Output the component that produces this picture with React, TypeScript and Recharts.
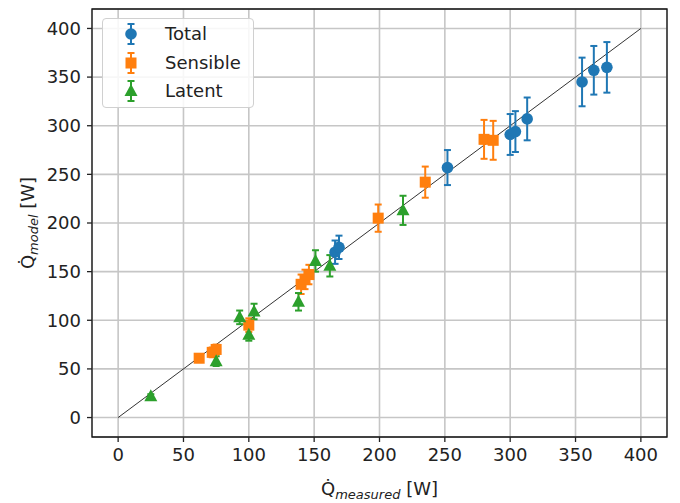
import {
  CartesianGrid,
  ErrorBar,
  Legend,
  ReferenceArea,
  ReferenceLine,
  Scatter,
  ScatterChart,
  XAxis,
  YAxis,
} from "recharts";

const totalX = [166, 169, 252, 300, 304, 313, 355, 364, 374];
const totalY = [170, 175, 257, 291, 294, 307, 345, 357, 360];
const totalErr = [12, 12, 18, 21, 21, 22, 25, 25, 26];

const sensibleX = [62, 72, 75, 100, 140, 143, 146, 199, 235, 280, 287];
const sensibleY = [61, 67, 70, 95, 137, 142, 147, 205, 242, 286, 285];
const sensibleErr = [4, 5, 5, 7, 10, 10, 10, 14, 16, 20, 20];

const latentX = [25, 75, 93, 100, 104, 138, 151, 162, 218];
const latentY = [22, 58, 103, 85, 109, 119, 161, 156, 213];
const latentErr = [2, 5, 7, 6, 8, 9, 11, 11, 15];

const ticks = [0, 50, 100, 150, 200, 250, 300, 350, 400];
const FONT = "DejaVu Sans, sans-serif";
const BLUE = "#1f77b4";
const ORANGE = "#ff7f0e";
const GREEN = "#2ca02c";

const rows = (xs: number[], ys: number[], es: number[]) =>
  xs.map((x, i) => ({ x, y: ys[i], err: es[i] }));

const Circle = (p: any) => <circle cx={p.cx} cy={p.cy} r={5.8} fill={BLUE} />;
const Square = (p: any) => (
  <rect x={p.cx - 5.5} y={p.cy - 5.5} width={11} height={11} fill={ORANGE} />
);
const Triangle = (p: any) => (
  <polygon
    points={`${p.cx},${p.cy - 7} ${p.cx - 6.5},${p.cy + 5} ${p.cx + 6.5},${p.cy + 5}`}
    fill={GREEN}
  />
);

const legendItems = [
  { name: "Total", color: BLUE, kind: "circle" },
  { name: "Sensible", color: ORANGE, kind: "square" },
  { name: "Latent", color: GREEN, kind: "triangle" },
];

function LegendBox() {
  return (
    <div
      style={{
        width: 150,
        height: 88,
        border: "1px solid #d0d0d0",
        borderRadius: 4,
        background: "rgba(255,255,255,0.85)",
        position: "relative",
        fontFamily: FONT,
        fontSize: 18,
        color: "#222",
      }}
    >
      {legendItems.map((it, i) => {
        const cy = 15 + i * 28.5;
        return (
          <div key={it.name}>
            <svg
              width={30}
              height={28}
              style={{ position: "absolute", left: 13, top: cy - 14 }}
            >
              <g stroke={it.color} strokeWidth={2}>
                <line x1={15} y1={4} x2={15} y2={24} />
                <line x1={11.5} y1={4} x2={18.5} y2={4} />
                <line x1={11.5} y1={24} x2={18.5} y2={24} />
              </g>
              {it.kind === "circle" && <circle cx={15} cy={14} r={5.8} fill={it.color} />}
              {it.kind === "square" && <rect x={9.5} y={8.5} width={11} height={11} fill={it.color} />}
              {it.kind === "triangle" && <polygon points="15,7 8.5,19 21.5,19" fill={it.color} />}
            </svg>
            <span
              style={{ position: "absolute", left: 62, top: cy - 12, lineHeight: "24px" }}
            >
              {it.name}
            </span>
          </div>
        );
      })}
    </div>
  );
}

const XLabel = (props: any) => {
  const vb = props.viewBox;
  return (
    <text x={vb.x + vb.width / 2} y={vb.y + 58} textAnchor="middle" fontFamily={FONT} fontSize={18} fill="#222">
      Q̇
      <tspan fontSize={13} fontStyle="italic" dy={4}>measured</tspan>
      <tspan dy={-4}> [W]</tspan>
    </text>
  );
};

const YLabel = (props: any) => {
  const vb = props.viewBox;
  const cx = 34;
  const cy = vb.y + vb.height / 2;
  return (
    <text
      transform={`translate(${cx},${cy}) rotate(-90)`}
      textAnchor="middle"
      fontFamily={FONT}
      fontSize={18}
      fill="#222"
    >
      Q̇
      <tspan fontSize={13} fontStyle="italic" dy={4}>model</tspan>
      <tspan dy={-4}> [W]</tspan>
    </text>
  );
};

export default function App() {
  const tickStyle = { fontFamily: FONT, fontSize: 18, fill: "#222" };
  return (
    <div style={{ position: "absolute", left: 0, top: 0, background: "#fff" }}>
      <ScatterChart width={680} height={503} margin={{ top: 9, right: 13, left: 0, bottom: 0 }}>
        <CartesianGrid stroke="#c6c6c6" strokeWidth={1.6} />
        <XAxis
          type="number"
          dataKey="x"
          domain={[-20, 420]}
          ticks={ticks}
          allowDataOverflow
          height={66}
          tickSize={5}
          tickMargin={6}
          tick={tickStyle}
          stroke="#222"
          tickLine={{ stroke: "#222", strokeWidth: 1.3 }}
          axisLine={false}
          label={<XLabel />}
        />
        <YAxis
          type="number"
          dataKey="y"
          domain={[-20, 420]}
          ticks={ticks}
          allowDataOverflow
          width={92}
          tickSize={5}
          tickMargin={6}
          tick={tickStyle}
          stroke="#222"
          tickLine={{ stroke: "#222", strokeWidth: 1.3 }}
          axisLine={false}
          label={<YLabel />}
        />
        <ReferenceLine
          segment={[
            { x: 0, y: 0 },
            { x: 400, y: 400 },
          ]}
          stroke="#333"
          strokeWidth={1}
        />
        <Scatter data={rows(totalX, totalY, totalErr)} shape={Circle} isAnimationActive={false}>
          <ErrorBar dataKey="err" direction="y" stroke={BLUE} strokeWidth={2} width={3.5} />
        </Scatter>
        <Scatter data={rows(sensibleX, sensibleY, sensibleErr)} shape={Square} isAnimationActive={false}>
          <ErrorBar dataKey="err" direction="y" stroke={ORANGE} strokeWidth={2} width={3.5} />
        </Scatter>
        <Scatter data={rows(latentX, latentY, latentErr)} shape={Triangle} isAnimationActive={false}>
          <ErrorBar dataKey="err" direction="y" stroke={GREEN} strokeWidth={2} width={3.5} />
        </Scatter>
        <ReferenceArea x1={-20} x2={420} y1={-20} y2={420} fill="none" stroke="#111" strokeWidth={1.3} ifOverflow="visible" />
        <Legend
          layout="vertical"
          align="center"
          verticalAlign="middle"
          wrapperStyle={{ left: 102, top: 18, width: "auto" }}
          content={() => <LegendBox />}
        />
      </ScatterChart>
    </div>
  );
}
